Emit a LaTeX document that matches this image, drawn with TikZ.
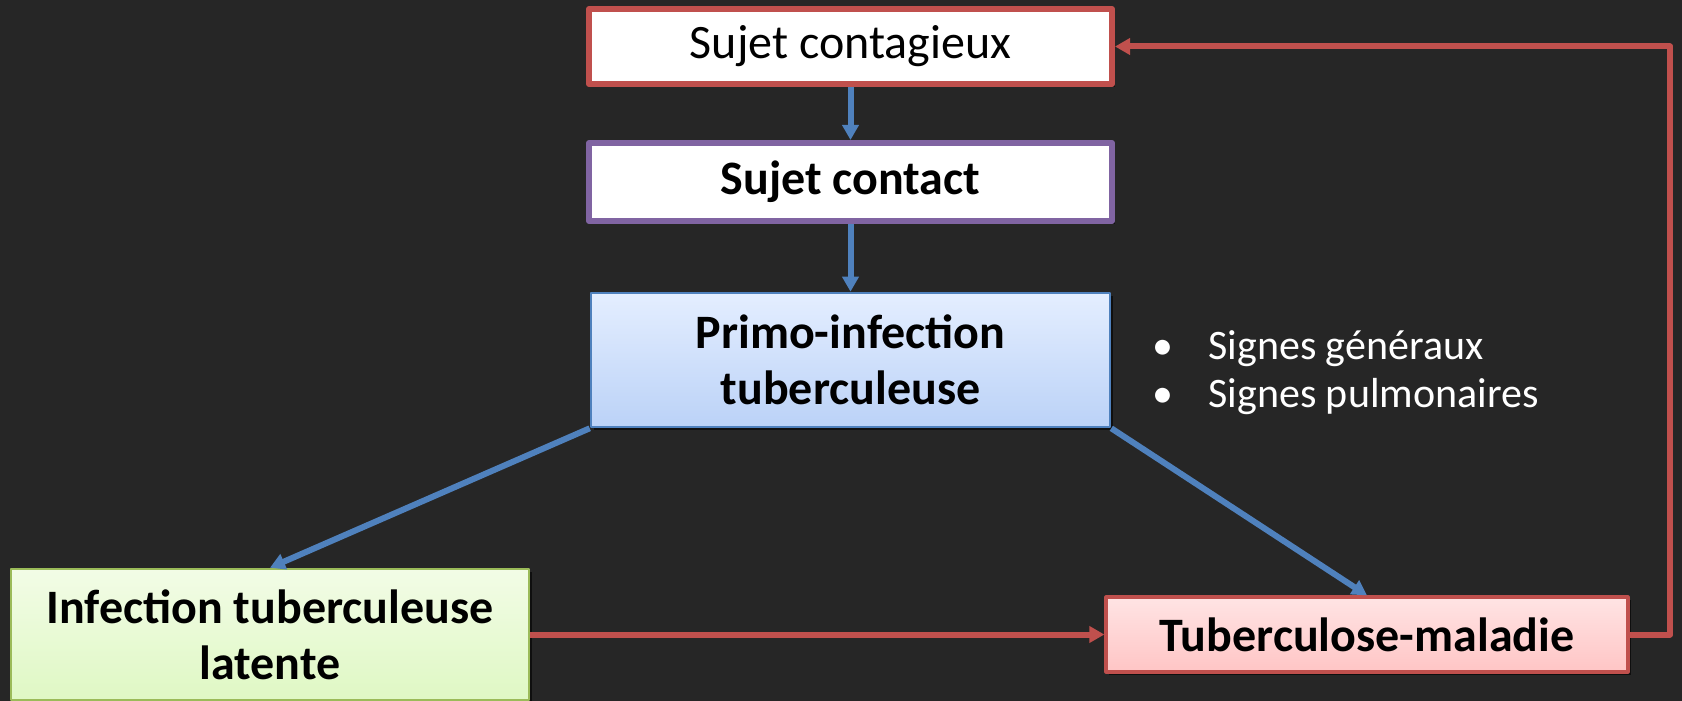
\documentclass[tikz,border=0pt]{standalone}
\usepackage{fontspec}
\setmainfont{Carlito}
\usepackage{tikz}
\usetikzlibrary{arrows.meta}
\usetikzlibrary{shadows}
\usetikzlibrary{positioning}

\definecolor{fond}{HTML}{262626}
\definecolor{rouge}{HTML}{C0504D}
\definecolor{violet}{HTML}{8064A2}
\definecolor{bleu}{HTML}{4F81BD}
\definecolor{vert}{HTML}{9BBB59}

\begin{document}
\begin{tikzpicture}[x=0.5pt, y=-0.5pt, line join=round, >={Triangle[length=7.5pt,width=8pt]},
    boite/.style={draw, rectangle, align=center, text=black, font=\fontsize{24}{28}\selectfont,
      inner sep=0pt, drop shadow={shadow xshift=1.5pt, shadow yshift=-1.5pt, fill=black, opacity=0.6}},
    fleche/.style={->, line width=3pt, draw=bleu},
    retour/.style={->, line width=3pt, draw=rouge}]
  \useasboundingbox[fill=fond] (0,0) rectangle (1682,701);
  %--- Nœuds
    \node[boite, fill=white, draw=rouge, line width=3pt, minimum width=261.5pt, minimum height=37.5pt] (SC) at (850.5,46.5) {Sujet contagieux};
    \node[boite, fill=white, draw=violet, line width=3pt, minimum width=261.5pt, minimum height=39pt, font=\fontsize{24}{28}\selectfont\bfseries] (CT) at (850.5,182) {Sujet contact};
    \node[boite, top color={rgb,255:red,228;green,238;blue,255}, bottom color={rgb,255:red,187;green,210;blue,247}, draw=bleu, line width=1.3pt, minimum width=259.5pt, minimum height=67pt, font=\fontsize{24}{28}\selectfont\bfseries] (PI) at (850.5,360) {Primo-infection\\tuberculeuse};
    \node[boite, top color={rgb,255:red,242;green,252;blue,230}, bottom color={rgb,255:red,223;green,248;blue,196}, draw=vert, line width=1.3pt, minimum width=259pt, minimum height=65.5pt, font=\fontsize{24}{28}\selectfont\bfseries] (IL) at (270,634.5) {Infection tuberculeuse\\latente};
    \node[boite, top color={rgb,255:red,255;green,228;blue,228}, bottom color={rgb,255:red,255;green,197;blue,197}, draw=rouge, line width=1.6pt, minimum width=261pt, minimum height=37.5pt, font=\fontsize{24}{28}\selectfont\bfseries] (TM) at (1367,634.5) {Tuberculose-maladie};
    \node[anchor=west, align=left, inner sep=0pt, text=white, font=\fontsize{21}{24}\selectfont] (SG) at (1152,373)
      {\makebox[28pt][l]{•}Signes généraux\\\makebox[28pt][l]{•}Signes pulmonaires};
    \coordinate (K) at (1670,634.5);
  %--- Flèches
    \draw[fleche] (SC) -- (CT);
    \draw[fleche] (CT) -- (PI);
    \draw[fleche] (PI.south west) -- (IL.north);
    \draw[fleche] (PI.south east) -- (TM.north);
    \draw[retour] (IL) -- (TM);
    \draw[retour] (TM.east) -- (K) |- (SC.east);
  %---
\end{tikzpicture}
\end{document}
